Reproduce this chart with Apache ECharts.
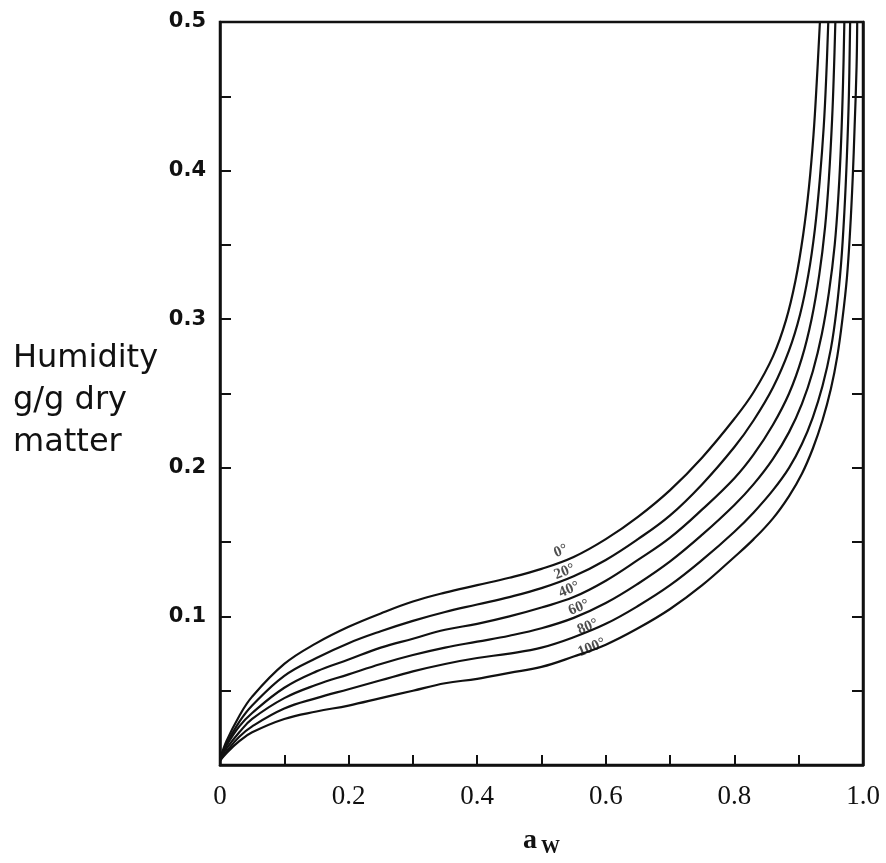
<!DOCTYPE html>
<html>
<head>
<meta charset="utf-8">
<script src="https://cdn.jsdelivr.net/npm/echarts@6/dist/echarts.min.js"></script>
<style>
  html, body { margin: 0; padding: 0; background: #fff; }
  #chart { width: 886px; height: 863px; }
</style>
</head>
<body>
<div id="chart"></div>
<script>
// sorption isotherms (aw -> g water / g dry matter)
var aw0 = [0, 0.01, 0.03, 0.05, 0.1, 0.15, 0.2, 0.25, 0.3, 0.35, 0.4, 0.45, 0.5, 0.55, 0.6, 0.65, 0.7, 0.75, 0.8, 0.83, 0.86, 0.88, 0.895, 0.907, 0.916, 0.923, 0.928, 0.933];
var m0  = [0.004, 0.016, 0.033, 0.046, 0.068, 0.082, 0.093, 0.102, 0.110, 0.116, 0.121, 0.126, 0.132, 0.140, 0.152, 0.167, 0.185, 0.207, 0.233, 0.251, 0.275, 0.299, 0.326, 0.357, 0.389, 0.424, 0.459, 0.5];

var aw20 = [0, 0.01, 0.03, 0.05, 0.1, 0.15, 0.2, 0.25, 0.3, 0.35, 0.4, 0.45, 0.5, 0.55, 0.6, 0.65, 0.7, 0.75, 0.8, 0.83, 0.86, 0.885, 0.902, 0.915, 0.925, 0.933, 0.939, 0.943, 0.946];
var m20  = [0.004, 0.014, 0.029, 0.040, 0.060, 0.072, 0.082, 0.090, 0.097, 0.103, 0.108, 0.113, 0.119, 0.127, 0.138, 0.152, 0.168, 0.189, 0.214, 0.232, 0.254, 0.279, 0.303, 0.330, 0.360, 0.395, 0.430, 0.465, 0.5];

var aw40 = [0, 0.01, 0.03, 0.05, 0.1, 0.15, 0.2, 0.25, 0.3, 0.35, 0.4, 0.45, 0.5, 0.55, 0.6, 0.65, 0.7, 0.75, 0.8, 0.83, 0.86, 0.885, 0.905, 0.92, 0.932, 0.941, 0.947, 0.952, 0.955, 0.957];
var m40  = [0.004, 0.013, 0.026, 0.035, 0.052, 0.063, 0.071, 0.079, 0.085, 0.091, 0.095, 0.100, 0.106, 0.113, 0.124, 0.138, 0.153, 0.172, 0.193, 0.209, 0.229, 0.250, 0.274, 0.300, 0.330, 0.362, 0.395, 0.435, 0.470, 0.5];

var aw60 = [0, 0.01, 0.03, 0.05, 0.1, 0.15, 0.2, 0.25, 0.3, 0.35, 0.4, 0.45, 0.5, 0.55, 0.6, 0.65, 0.7, 0.75, 0.8, 0.83, 0.86, 0.885, 0.905, 0.922, 0.936, 0.947, 0.956, 0.962, 0.966, 0.969, 0.971];
var m60  = [0.004, 0.011, 0.022, 0.031, 0.045, 0.054, 0.061, 0.068, 0.074, 0.079, 0.083, 0.087, 0.092, 0.099, 0.109, 0.122, 0.137, 0.155, 0.175, 0.189, 0.206, 0.224, 0.243, 0.265, 0.290, 0.318, 0.350, 0.385, 0.420, 0.460, 0.5];

var aw80 = [0, 0.01, 0.03, 0.05, 0.1, 0.15, 0.2, 0.25, 0.3, 0.35, 0.4, 0.45, 0.5, 0.55, 0.6, 0.65, 0.7, 0.75, 0.8, 0.83, 0.86, 0.885, 0.905, 0.922, 0.937, 0.95, 0.959, 0.966, 0.971, 0.975, 0.978, 0.98];
var m80  = [0.003, 0.009, 0.019, 0.026, 0.038, 0.045, 0.051, 0.057, 0.063, 0.068, 0.072, 0.075, 0.079, 0.086, 0.095, 0.107, 0.121, 0.138, 0.157, 0.170, 0.185, 0.200, 0.216, 0.234, 0.255, 0.280, 0.307, 0.338, 0.372, 0.410, 0.450, 0.5];

var aw100 = [0, 0.01, 0.03, 0.05, 0.1, 0.15, 0.2, 0.25, 0.3, 0.35, 0.4, 0.45, 0.5, 0.55, 0.6, 0.65, 0.7, 0.75, 0.8, 0.83, 0.86, 0.885, 0.905, 0.922, 0.937, 0.95, 0.96, 0.968, 0.975, 0.98, 0.984, 0.987, 0.99, 0.991];
var m100  = [0.003, 0.008, 0.016, 0.022, 0.031, 0.036, 0.040, 0.045, 0.050, 0.055, 0.058, 0.062, 0.066, 0.073, 0.081, 0.092, 0.105, 0.121, 0.140, 0.152, 0.166, 0.181, 0.196, 0.213, 0.232, 0.253, 0.275, 0.300, 0.328, 0.360, 0.395, 0.430, 0.470, 0.5];

// temperature tags written on the curves
var tempNames = ['0°', '20°', '40°', '60°', '80°', '100°'];
var tagAw = [0.530, 0.536, 0.543, 0.558, 0.572, 0.578];
var tagM  = [0.144, 0.130, 0.118, 0.106, 0.093, 0.079];

var curves = [[aw0, m0], [aw20, m20], [aw40, m40], [aw60, m60], [aw80, m80], [aw100, m100]];

function pairs(xs, ys) {
    return xs.map(function (x, i) { return [x, ys[i]]; });
}

var chart = echarts.init(document.getElementById('chart'));

var yAxisBase = {
    type: 'value',
    min: 0,
    max: 0.5,
    interval: 0.05,
    splitLine: { show: false },
    axisLine: { show: true, lineStyle: { color: '#111', width: 2.5 } },
    axisTick: { show: true, inside: true, length: 11, lineStyle: { color: '#111', width: 2 } }
};

var series = curves.map(function (c, i) {
    return {
        name: tempNames[i],
        type: 'line',
        data: pairs(c[0], c[1]),
        smooth: 0.4,
        symbol: 'none',
        clip: true,
        lineStyle: { color: '#111', width: 2.2 }
    };
});

series.push({
    type: 'scatter',
    symbolSize: 0,
    data: tagAw.map(function (x, i) { return [x, tagM[i], tempNames[i]]; }),
    label: {
        show: true,
        position: 'inside',
        rotate: 22,
        formatter: function (p) { return p.data[2]; },
        fontFamily: 'Liberation Serif',
        fontWeight: 'bold',
        fontSize: 15,
        color: '#222'
    },
    silent: true
});

var option = {
    backgroundColor: '#fff',
    animation: false,
    title: {
        text: 'Humidity\ng/g dry\nmatter',
        left: 8,
        top: 333,
        textStyle: {
            fontFamily: 'DejaVu Sans',
            fontWeight: 'normal',
            fontSize: 32,
            lineHeight: 42,
            color: '#111'
        }
    },
    grid: {
        left: 220,
        right: 23,
        top: 22,
        bottom: 91,
        show: true,
        borderColor: '#111',
        borderWidth: 2.5,
        backgroundColor: 'transparent'
    },
    xAxis: {
        type: 'value',
        min: 0,
        max: 1,
        interval: 0.1,
        splitLine: { show: false },
        axisLine: { show: true, lineStyle: { color: '#111', width: 2.5 } },
        axisTick: { show: true, inside: true, length: 10, lineStyle: { color: '#111', width: 2 } },
        axisLabel: {
            margin: 18,
            fontFamily: 'Liberation Serif',
            fontSize: 27,
            color: '#111',
            formatter: function (v) {
                var k = Math.round(v * 10);
                if (k % 2) return '';
                return k === 0 ? '0' : (k / 10).toFixed(1);
            }
        },
        name: '{a|a}{w|W}',
        nameLocation: 'middle',
        nameGap: 58,
        nameTextStyle: {
            rich: {
                a: { fontFamily: 'Liberation Serif', fontWeight: 'bold', fontSize: 28, color: '#111' },
                w: { fontFamily: 'Liberation Serif', fontWeight: 'bold', fontSize: 19, color: '#111', padding: [16, 0, 0, 4] }
            }
        }
    },
    yAxis: [
        Object.assign({}, yAxisBase, {
            position: 'left',
            axisLabel: {
                margin: 14,
                fontFamily: 'DejaVu Sans',
                fontWeight: 'bold',
                fontSize: 21,
                color: '#111',
                formatter: function (v) {
                    var k = Math.round(v * 20);
                    if (k === 0 || k % 2) return '';
                    return (k / 20).toFixed(1);
                }
            }
        }),
        Object.assign({}, yAxisBase, {
            position: 'right',
            axisLabel: { show: false }
        })
    ],
    series: series
};

chart.setOption(option);
</script>
</body>
</html>
